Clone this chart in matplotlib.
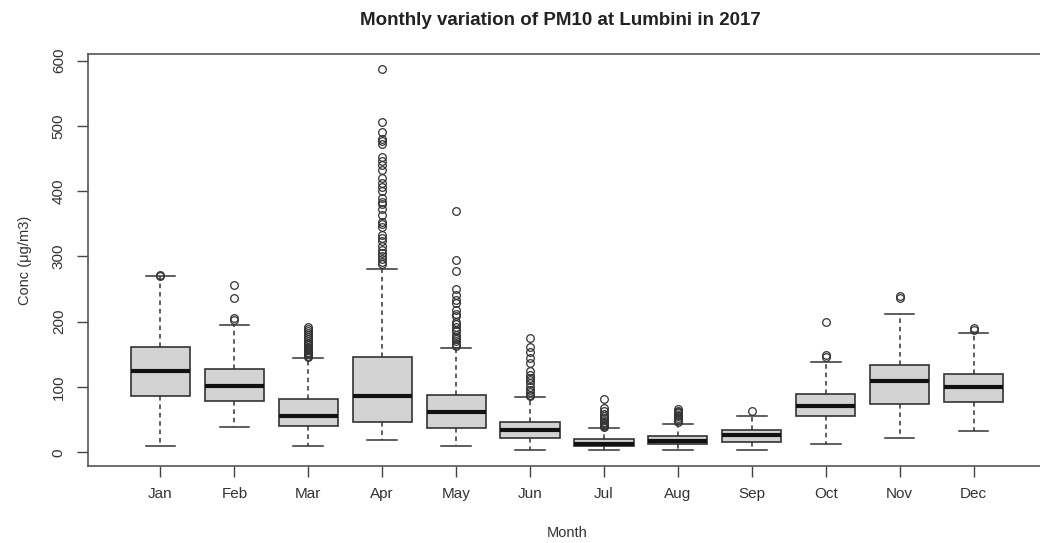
import matplotlib.pyplot as plt

plt.rcParams['font.family'] = ['Liberation Sans', 'DejaVu Sans']

# Box statistics (ug/m3)
months = ["Jan", "Feb", "Mar", "Apr", "May", "Jun",
          "Jul", "Aug", "Sep", "Oct", "Nov", "Dec"]
q1 = [86, 79, 41, 47, 37, 22, 10, 12.5, 15, 56, 74, 77]
med = [124, 102, 56, 86, 61, 34, 13, 18, 27, 71, 109, 100]
q3 = [161, 128, 81, 146, 87, 47, 20, 25, 34, 89, 133, 120]
whislo = [10, 38, 10, 19, 10, 4, 3.5, 3.5, 3.5, 13, 22, 32]
whishi = [270, 195, 144, 281, 160, 84, 37, 44, 56, 139, 212, 182]
fliers = [
    [270, 271],
    [256, 236, 206, 203],
    [192, 189, 186, 183, 180, 177, 174, 171, 168, 166, 164, 162, 160, 158,
     156, 154, 152, 150, 148, 146],
    [587, 506, 490, 480, 476, 472, 452, 446, 440, 432, 420, 412, 407, 400,
     390, 384, 380, 372, 364, 353, 350, 345, 333, 328, 323, 316, 310, 305,
     300, 296, 292, 288],
    [370, 295, 277, 250, 241, 233, 228, 218, 212, 208, 200, 196, 192, 188,
     185, 180, 177, 173, 170, 166, 163],
    [175, 162, 154, 145, 137, 124, 118, 114, 110, 106, 100, 96, 92, 88, 86],
    [82, 68, 63, 58, 55, 52, 50, 47, 45, 42, 40, 38],
    [67, 64, 62, 60, 57, 55, 52, 50, 47],
    [64],
    [199, 149, 146],
    [239, 237],
    [190, 188],
]

stats = []
for i in range(len(months)):
    stats.append({"med": med[i], "q1": q1[i], "q3": q3[i],
                  "whislo": whislo[i], "whishi": whishi[i],
                  "fliers": fliers[i], "label": months[i]})

fig = plt.figure(figsize=(10.4, 5.43), dpi=100)
ax = fig.add_axes([88 / 1040, 77 / 543, 958 / 1040, 412 / 543])

ax.bxp(stats, positions=range(1, 13), widths=0.8, patch_artist=True,
       boxprops=dict(facecolor="#d3d3d3", edgecolor="#333333", linewidth=1.2),
       medianprops=dict(color="#111111", linewidth=3),
       whiskerprops=dict(color="#333333", linewidth=1.1, linestyle=(0, (3, 2.5))),
       capprops=dict(color="#333333", linewidth=1.1),
       capwidths=0.4,
       flierprops=dict(marker="o", markersize=5.5, markerfacecolor="none",
                       markeredgecolor="#333333", markeredgewidth=0.9))

ax.set_xlim(0.02, 12.98)
ax.set_ylim(-21, 610)
ax.set_xticks(range(1, 13))
ax.set_xticklabels(months)
ax.set_yticks([0, 100, 200, 300, 400, 500, 600])
ax.set_yticklabels(["0", "100", "200", "300", "400", "500", "600"],
                   rotation=90, va="center")

ax.tick_params(axis="both", length=8, width=1, color="#444444",
               labelsize=11, labelcolor="#333333")
ax.tick_params(axis="x", pad=7)
ax.tick_params(axis="y", pad=8)
for s in ax.spines.values():
    s.set_color("#555555")
    s.set_linewidth(1.2)

ax.set_xlabel("Month", fontsize=10.5, color="#333333", labelpad=18)
ax.set_ylabel("Conc (\u03bcg/m3)", fontsize=10.5, color="#333333", labelpad=14)
fig.text(0.539, 0.963, "Monthly variation of PM10 at Lumbini in 2017",
         ha="center", va="center", fontsize=13.5, fontweight="bold",
         color="#222222")

fig.savefig("out.png", dpi=100)
